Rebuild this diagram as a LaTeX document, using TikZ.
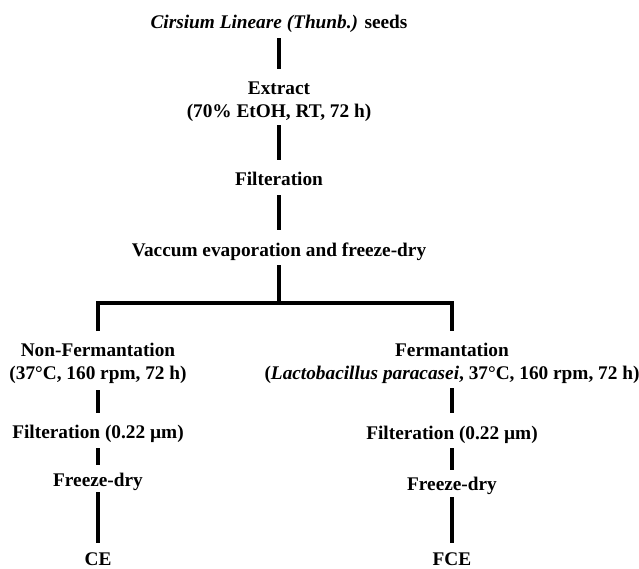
\documentclass[tikz,border=0pt]{standalone}
\usepackage{fontspec}
\setmainfont{Liberation Serif}
\begin{document}
\begin{tikzpicture}[x=1pt,y=-1pt,
  lbl/.style={inner sep=0pt, anchor=base, align=center, font=\fontsize{19.3}{22.5}\selectfont\bfseries},
  conn/.style={line width=3.1pt, line join=miter}]
\useasboundingbox (0,0) rectangle (639,568);
\node[lbl] (title) at (279,28) {\textit{Cirsium Lineare (Thunb.)} seeds};
\node[lbl] (extract) at (279,117) {Extract\\(70\% EtOH, RT, 72 h)};
\node[lbl] (filt) at (279,185) {Filteration};
\node[lbl] (vac) at (279,256) {Vaccum evaporation and freeze-dry};
\node[lbl] (nonf) at (98,379) {Non-Fermantation\\(37°C, 160 rpm, 72 h)};
\node[lbl] (ferm) at (452,379) {Fermantation\\(\textit{Lactobacillus paracasei}, 37°C, 160 rpm, 72 h)};
\node[lbl] (filtL) at (98,438) {Filteration (0.22 µm)};
\node[lbl] (filtR) at (452,439) {Filteration (0.22 µm)};
\node[lbl] (fdL) at (98,486) {Freeze-dry};
\node[lbl] (fdR) at (452,490) {Freeze-dry};
\node[lbl] (ce) at (98,565) {CE};
\node[lbl] (fce) at (452,565) {FCE};
\coordinate (hub) at (279,303);
\draw[conn] ([yshift=-10pt]title.base) -- ([yshift=48pt]extract.base);
\draw[conn] ([yshift=-8pt]extract.base) -- ([yshift=25pt]filt.base);
\draw[conn] ([yshift=-10pt]filt.base) -- ([yshift=26pt]vac.base);
\draw[conn] ([yshift=-9pt]vac.base) -- (hub);
\draw[conn] ([yshift=48pt]nonf.base) |- (hub) -| ([yshift=48pt]ferm.base);
\draw[conn] ([yshift=-11pt]nonf.base) -- ([yshift=25pt]filtL.base);
\draw[conn] ([yshift=-10pt]filtL.base) -- ([yshift=21pt]fdL.base);
\draw[conn] ([yshift=-6pt]fdL.base) -- ([yshift=22pt]ce.base);
\draw[conn] ([yshift=-9pt]ferm.base) -- ([yshift=26pt]filtR.base);
\draw[conn] ([yshift=-9pt]filtR.base) -- ([yshift=20pt]fdR.base);
\draw[conn] ([yshift=-7pt]fdR.base) -- ([yshift=22pt]fce.base);
\end{tikzpicture}
\end{document}
